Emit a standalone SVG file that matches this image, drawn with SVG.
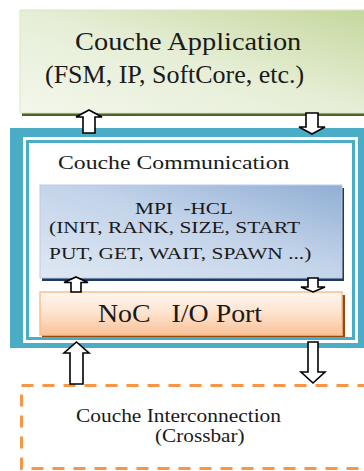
<svg xmlns="http://www.w3.org/2000/svg" width="364" height="471" viewBox="0 0 364 471">
<defs>
<linearGradient id="gApp" x1="0" y1="1" x2="1" y2="0">
<stop offset="0" stop-color="#f3f7ec"/>
<stop offset="0.5" stop-color="#e6eed6"/>
<stop offset="1" stop-color="#c4d79c"/>
</linearGradient>
<linearGradient id="gMpi" x1="0" y1="1" x2="1" y2="0">
<stop offset="0" stop-color="#dfe8f3"/>
<stop offset="0.55" stop-color="#c2d3e9"/>
<stop offset="1" stop-color="#90aed4"/>
</linearGradient>
<linearGradient id="gNoc" x1="0" y1="0" x2="0" y2="1">
<stop offset="0" stop-color="#fef6f0"/>
<stop offset="0.5" stop-color="#fde2cc"/>
<stop offset="1" stop-color="#f9c298"/>
</linearGradient>
<style>
.arrow{fill:#fff;stroke:#000;stroke-width:1.6;stroke-linejoin:miter}
</style>
</defs>

<g id="app">
<rect x="22" y="13" width="350" height="103" fill="#4f6228"/>
<rect x="20" y="10" width="350" height="103" fill="url(#gApp)" stroke="#dbe6c4" stroke-width="1"/>
<text font-family="'Liberation Serif', serif" fill="#1a1a1a" font-size="26" transform="translate(75,50) scale(1.092,1)">Couche Application</text>
<text font-family="'Liberation Serif', serif" fill="#1a1a1a" font-size="26" transform="translate(45,83)">(FSM, IP, SoftCore, etc.)</text>
</g>

<g id="communication">
<rect x="10" y="128" width="370" height="220" fill="#4bacc6"/>
<rect x="23" y="137" width="335" height="206" fill="#fff"/>
<rect x="26" y="140" width="329" height="200" fill="#4bacc6"/>
<rect x="29" y="143" width="323" height="194" fill="#fff"/>
<text font-family="'Liberation Serif', serif" fill="#1a1a1a" font-size="19" transform="translate(58,169) scale(1.25,1)">Couche Communication</text>
</g>

<g id="mpi">
<rect x="42" y="188" width="302" height="93" fill="#1f3a60"/>
<rect x="40" y="185" width="302" height="93" fill="url(#gMpi)" stroke="#b9cce4" stroke-width="1"/>
<text font-family="'Liberation Serif', serif" fill="#1a1a1a" font-size="17" transform="translate(135,214) scale(1.25,1)" xml:space="preserve">MPI  -HCL</text>
<text font-family="'Liberation Serif', serif" fill="#1a1a1a" font-size="17" transform="translate(49,233) scale(1.26,1)">(INIT, RANK, SIZE, START</text>
<text font-family="'Liberation Serif', serif" fill="#1a1a1a" font-size="17" transform="translate(49,259) scale(1.26,1)">PUT, GET, WAIT, SPAWN ...)</text>
</g>

<g id="noc">
<rect x="42" y="295" width="303" height="42" fill="#984807"/>
<rect x="40" y="292" width="302" height="43" fill="url(#gNoc)" stroke="#fac090" stroke-width="1.5"/>
<text font-family="'Liberation Serif', serif" fill="#1a1a1a" font-size="25" transform="translate(98,322) scale(1.115,1)" xml:space="preserve">NoC   I/O Port</text>
</g>

<g id="interconnection">
<rect x="21.5" y="385.5" width="400" height="83" fill="#fff" stroke="#f79646" stroke-width="3" stroke-dasharray="12 9"/>
<text font-family="'Liberation Serif', serif" fill="#1a1a1a" font-size="18" transform="translate(76,422) scale(1.19,1)">Couche Interconnection</text>
<text font-family="'Liberation Serif', serif" fill="#1a1a1a" font-size="18" transform="translate(155,442) scale(1.18,1)">(Crossbar)</text>
</g>

<g id="connectors">
<path class="arrow" d="M89 110 L102 117 L95 117 L95 133 L83 133 L83 117 L76 117 Z"/>
<path class="arrow" d="M312 134 L325 127 L318 127 L318 113 L306 113 L306 127 L299 127 Z"/>
<path class="arrow" d="M76 277 L88 282.5 L81 282.5 L81 292 L71 292 L71 282.5 L64 282.5 Z"/>
<path class="arrow" d="M313 292 L325 287 L318 287 L318 278 L308 278 L308 287 L301 287 Z"/>
<path class="arrow" d="M76.5 342 L89 353 L83 353 L83 384 L70 384 L70 353 L64 353 Z"/>
<path class="arrow" d="M313 383 L325 372 L318 372 L318 342 L308 342 L308 372 L301 372 Z"/>
</g>
</svg>
